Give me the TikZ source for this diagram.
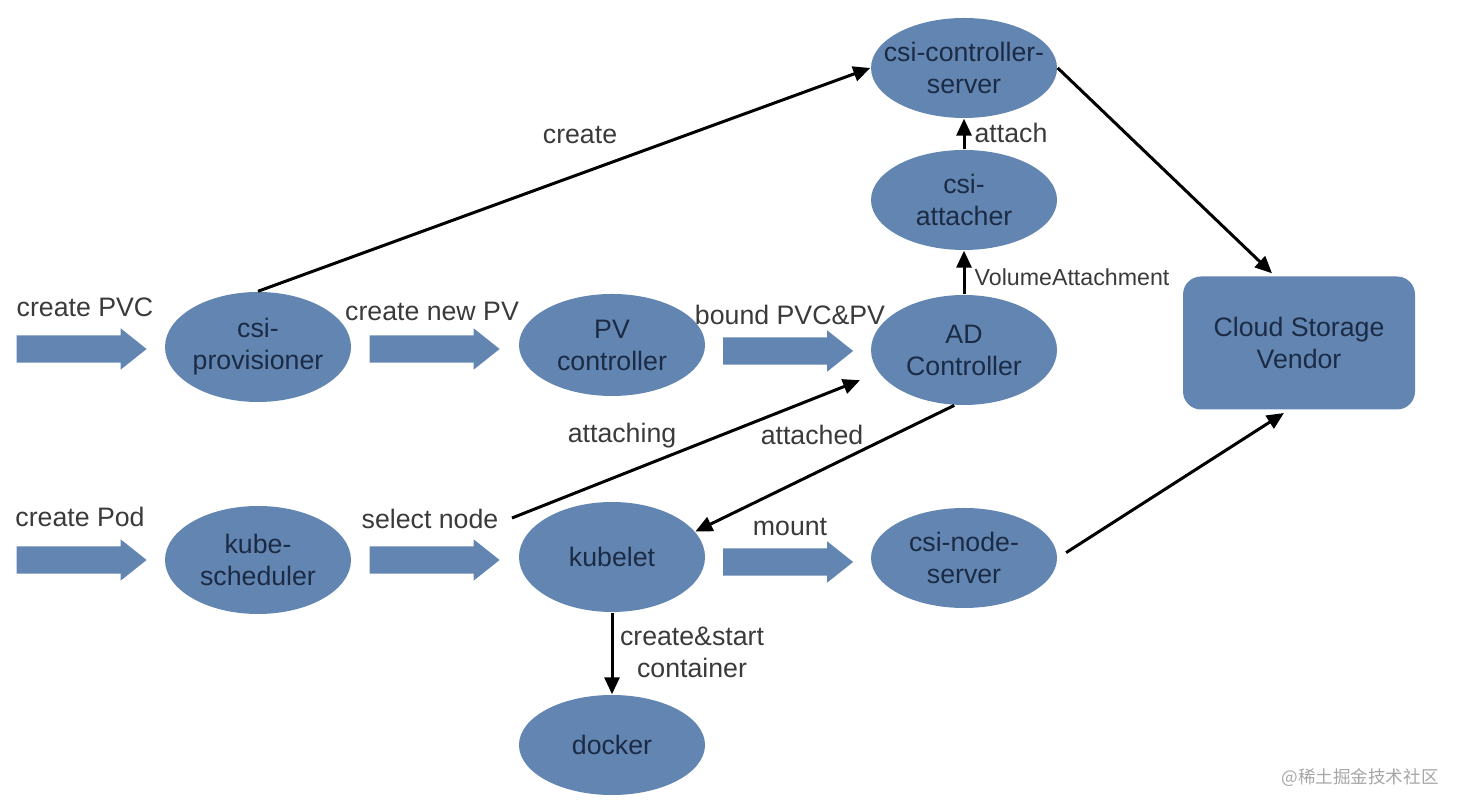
\documentclass[tikz,border=0pt]{standalone}
\usepackage{fontspec}
\setmainfont{Liberation Sans}
\newfontfamily\cjkfont{Noto Sans CJK SC}
\usetikzlibrary{shapes.geometric,shapes.arrows,arrows.meta}
\definecolor{blobblue}{RGB}{98,134,177}
\definecolor{blobtext}{RGB}{28,43,69}
\definecolor{labeltext}{RGB}{58,58,58}
\begin{document}
\begin{tikzpicture}[every node/.style={font=\fontsize{7.6}{9.1}\selectfont},
  arrow/.style={draw,line width=0.3mm,-{Triangle[length=1.7mm,width=1.5mm]}},
  blob/.style={ellipse,fill=blobblue,text=blobtext,inner sep=0pt,minimum width=1.86cm,minimum height=1.05cm,align=center},
  fat/.style={single arrow,fill=blobblue,inner sep=0.13cm,minimum height=1.3cm,single arrow head extend=0.07cm,single arrow head indent=0pt,single arrow tip angle=77},
  lbl/.style={text=labeltext,inner sep=1pt,align=center}]
\useasboundingbox (0,0) rectangle (14.62,8.12);
% ellipses
\node[blob,minimum height=1.0cm,inner xsep=-0.16cm] at (9.64,7.44) (ctrl) {csi-controller-\\server};
\node[blob,minimum height=1.0cm] at (9.64,6.12) (attacher) {csi-\\attacher};
\node[blob,minimum height=1.1cm] at (2.58,4.65) (prov) {csi-\\provisioner};
\node[blob,minimum height=1.02cm] at (6.12,4.67) (pvctl) {PV\\controller};
\node[blob,minimum height=1.1cm] at (9.64,4.62) (adc) {AD\\Controller};
\node[blob,minimum height=1.08cm] at (2.58,2.52) (sched) {kube-\\scheduler};
\node[blob,minimum height=1.1cm] at (6.12,2.55) (kubelet) {kubelet};
\node[blob,minimum height=1.0cm] at (9.64,2.54) (nodesrv) {csi-node-\\server};
\node[blob,minimum height=1.0cm] at (6.12,0.67) (docker) {docker};
\node[rectangle,rounded corners=0.18cm,fill=blobblue,text=blobtext,minimum width=2.32cm,minimum height=1.33cm,align=center] at (12.99,4.69) (cloud) {Cloud Storage\\Vendor};
% block arrows
\node[fat] at (0.73,4.63) (pvcin) {};
\node[fat] at (4.26,4.63) (newpv) {};
\node[fat] at (7.795,4.61) (bound) {};
\node[fat] at (0.73,2.52) (podin) {};
\node[fat] at (4.26,2.52) (select) {};
\node[fat] at (7.795,2.50) (mount) {};
% labels
\node[lbl] at (0.85,5.05) (tpvc) {create PVC};
\node[lbl] at (4.32,5.01) (tnewpv) {create new PV};
\node[lbl] at (7.90,4.97) (tbound) {bound PVC\&PV};
\node[lbl] at (0.80,2.95) (tpod) {create Pod};
\node[lbl] at (4.30,2.93) (tselect) {select node};
\node[lbl] at (7.90,2.85) (tmount) {mount};
\node[lbl] at (5.80,6.77) (tcreate) {create};
\node[lbl] at (10.11,6.79) (tattach) {attach};
\node[lbl,font=\fontsize{6.6}{8}\selectfont] at (10.72,5.35) (tva) {VolumeAttachment};
\node[lbl] at (6.22,3.76) (tattaching) {attaching};
\node[lbl] at (8.12,3.77) (tattached) {attached};
\node[lbl] at (6.92,1.60) (tstart) {create\&start\\container};
\node[text=black!35,font=\cjkfont\fontsize{5}{6}\selectfont] at (13.60,0.34) (mark) {@稀土掘金技术社区};
% connectors
\coordinate (attstart) at (5.12,2.94);
\draw[arrow] (prov.north) -- (ctrl.west);
\draw[arrow,shorten >=1pt] (ctrl.east) -- (cloud.110);
\draw[arrow] (attacher.north) -- (ctrl.south);
\draw[arrow] (adc.north) -- (attacher.south);
\draw[arrow,shorten >=0.2cm] (attstart) -- (adc.195);
\draw[arrow] (adc.260) -- (kubelet.17);
\draw[arrow,shorten <=0.1cm,shorten >=1.5pt] (nodesrv.east) -- (cloud.261);
\draw[arrow] (kubelet.south) -- (docker.north);
\end{tikzpicture}
\end{document}
